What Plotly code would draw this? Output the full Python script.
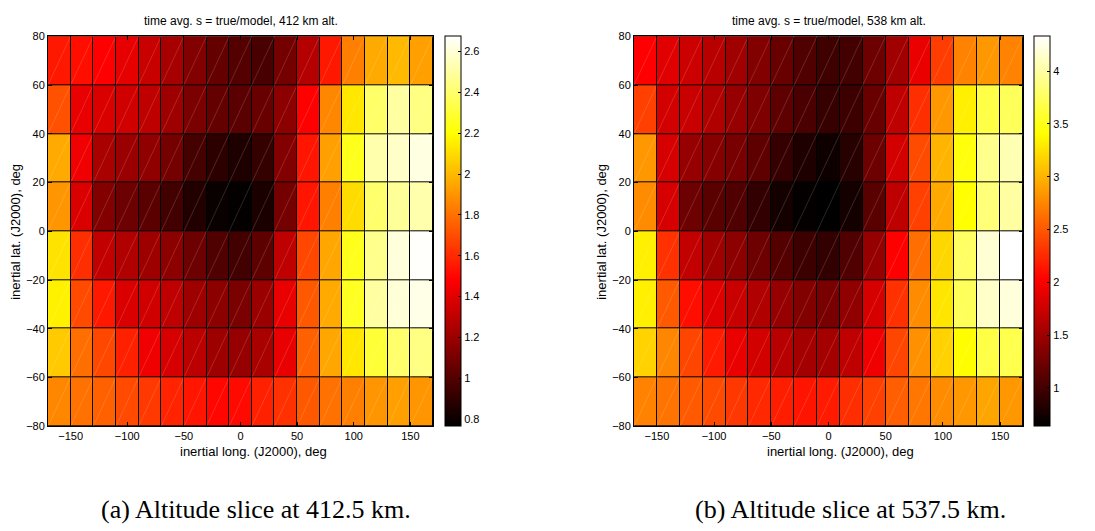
import plotly.graph_objects as go

# ---------------- data ----------------
lon_centers = [-160, -140, -120, -100, -80, -60, -40, -20, 0, 20, 40, 60, 80, 100, 120, 140, 160]
lat_centers = [70, 50, 30, 10, -10, -30, -50, -70]
x_ticks = [-150, -100, -50, 0, 50, 100, 150]
y_ticks = [-80, -60, -40, -20, 0, 20, 40, 60, 80]

# 412 km slice (rows from lat 70 down to -70)
s_412 = [
    [1.55, 1.52, 1.48, 1.41, 1.33, 1.23, 1.13, 1.045, 1.00, 0.97, 1.09, 1.27, 1.55, 1.84, 1.96, 2.00, 1.93],
    [1.71, 1.42, 1.38, 1.35, 1.30, 1.21, 1.11, 1.045, 1.02, 1.06, 1.16, 1.48, 1.86, 2.13, 2.39, 2.50, 2.44],
    [1.96, 1.44, 1.24, 1.20, 1.17, 1.09, 0.96, 0.89, 0.85, 0.91, 1.13, 1.54, 1.93, 2.25, 2.52, 2.57, 2.62],
    [1.90, 1.38, 1.13, 1.07, 1.02, 0.95, 0.86, 0.79, 0.78, 0.84, 1.09, 1.54, 1.84, 2.10, 2.40, 2.48, 2.52],
    [2.12, 1.61, 1.31, 1.26, 1.21, 1.16, 1.07, 0.99, 0.95, 1.03, 1.30, 1.68, 1.95, 2.25, 2.46, 2.61, 2.67],
    [2.16, 1.69, 1.55, 1.38, 1.35, 1.30, 1.21, 1.16, 1.11, 1.20, 1.42, 1.73, 1.96, 2.26, 2.50, 2.60, 2.63],
    [2.05, 1.79, 1.68, 1.57, 1.44, 1.37, 1.29, 1.21, 1.19, 1.24, 1.42, 1.75, 1.95, 2.13, 2.30, 2.40, 2.44],
    [1.86, 1.80, 1.75, 1.69, 1.64, 1.58, 1.54, 1.50, 1.51, 1.57, 1.62, 1.73, 1.80, 1.84, 1.90, 1.93, 1.90],
]

# 538 km slice
s_538 = [
    [2.02, 1.86, 1.75, 1.64, 1.51, 1.34, 1.20, 1.07, 0.98, 1.00, 1.23, 1.51, 1.91, 2.35, 2.73, 2.84, 2.73],
    [2.37, 1.78, 1.72, 1.59, 1.45, 1.32, 1.15, 1.04, 0.93, 0.96, 1.20, 1.67, 2.27, 2.84, 3.32, 3.66, 3.73],
    [2.84, 1.80, 1.45, 1.37, 1.29, 1.15, 0.93, 0.80, 0.72, 0.85, 1.23, 1.78, 2.43, 3.00, 3.45, 3.91, 4.06],
    [2.78, 1.80, 1.23, 1.12, 1.07, 0.91, 0.75, 0.66, 0.64, 0.75, 1.12, 1.67, 2.37, 2.94, 3.41, 3.84, 3.99],
    [3.32, 2.29, 1.69, 1.51, 1.40, 1.23, 1.10, 0.96, 0.91, 1.07, 1.45, 2.02, 2.62, 3.19, 3.77, 4.17, 4.33],
    [3.32, 2.51, 2.10, 1.86, 1.72, 1.59, 1.45, 1.34, 1.29, 1.42, 1.80, 2.29, 2.78, 3.27, 3.73, 4.13, 4.20],
    [3.16, 2.75, 2.40, 2.16, 1.91, 1.78, 1.64, 1.53, 1.53, 1.67, 1.94, 2.40, 2.81, 3.16, 3.40, 3.66, 3.69],
    [2.73, 2.65, 2.51, 2.43, 2.32, 2.24, 2.18, 2.13, 2.16, 2.27, 2.37, 2.54, 2.67, 2.78, 2.84, 2.92, 2.84],
]

ticks_412 = [0.8, 1.0, 1.2, 1.4, 1.6, 1.8, 2.0, 2.2, 2.4, 2.6]
ticks_538 = [1, 1.5, 2, 2.5, 3, 3.5, 4]
range_412 = [0.765, 2.675]
range_538 = [0.636, 4.33]

titles = ["time avg. s = true/model, 412 km alt.", "time avg. s = true/model, 538 km alt."]
captions = ["(a) Altitude slice at 412.5 km.", "(b) Altitude slice at 537.5 km."]
xlabel = "inertial long. (J2000), deg"
ylabel = "inertial lat. (J2000), deg"

# MATLAB "hot" colormap
hot = [[0.0, "rgb(0,0,0)"], [0.375, "rgb(255,0,0)"], [0.75, "rgb(255,255,0)"], [1.0, "rgb(255,255,255)"]]

W, H = 1095, 531
def px(x):
    return x / W
def py(y):
    return 1 - y / H

plot_top, plot_bot = 31, 430
panels = [
    dict(z=s_412, rng=range_412, ticks=ticks_412, x0=48, x1=433, cbx=445, title_x=241, xl_x=253, cap_x=256),
    dict(z=s_538, rng=range_538, ticks=ticks_538, x0=634, x1=1023, cbx=1034, title_x=829, xl_x=840, cap_x=850),
]

fig = go.Figure()
font_main = "Liberation Sans, Arial, Helvetica, sans-serif"
annotations = []

for i, p in enumerate(panels):
    xa = "x" if i == 0 else "x2"
    ya = "y" if i == 0 else "y2"
    fig.add_trace(go.Heatmap(
        x=lon_centers, y=lat_centers, z=p["z"],
        colorscale=hot, zmin=p["rng"][0], zmax=p["rng"][1],
        xgap=1, ygap=1, xaxis=xa, yaxis=ya, hoverongaps=False,
        colorbar=dict(
            x=px(p["cbx"]), xanchor="left", xpad=0, ypad=0,
            y=py(plot_top), yanchor="top", len=(plot_bot - plot_top) / H, lenmode="fraction",
            thickness=16, thicknessmode="pixels",
            outlinewidth=1, outlinecolor="black",
            tickvals=p["ticks"], ticks="inside", ticklen=3, tickcolor="black",
            tickfont=dict(family=font_main, size=11, color="black"),
        ),
    ))
    # faint diagonal seams across each cell
    dx, dy = [], []
    for lo in lon_centers:
        for la in lat_centers:
            dx += [lo - 10, lo + 10, None]
            dy += [la - 10, la + 10, None]
    fig.add_trace(go.Scatter(x=dx, y=dy, mode="lines", xaxis=xa, yaxis=ya,
                             line=dict(color="rgba(255,255,255,0.25)", width=0.6),
                             hoverinfo="skip", showlegend=False))

    annotations.append(dict(text=titles[i], x=px(p["title_x"]), y=py(15), xref="paper", yref="paper",
                            showarrow=False, xanchor="center", yanchor="middle",
                            font=dict(family=font_main, size=12, color="black")))
    annotations.append(dict(text=xlabel, x=px(p["xl_x"]), y=py(456), xref="paper", yref="paper",
                            showarrow=False, xanchor="center", yanchor="middle",
                            font=dict(family=font_main, size=13, color="black")))
    annotations.append(dict(text=ylabel, x=px(p["x0"] - 32), y=py(231), xref="paper", yref="paper",
                            showarrow=False, xanchor="center", yanchor="middle", textangle=-90,
                            font=dict(family=font_main, size=13, color="black")))
    annotations.append(dict(text=captions[i], x=px(p["cap_x"]), y=py(515), xref="paper", yref="paper",
                            showarrow=False, xanchor="center", yanchor="middle",
                            font=dict(family="Liberation Serif, Times New Roman, serif", size=26, color="black")))

axis_common = dict(showgrid=False, zeroline=False, showline=True, linecolor="black", linewidth=1,
                   mirror="ticks", ticks="inside", ticklen=4, tickcolor="black",
                   tickfont=dict(family=font_main, size=11, color="black"))

fig.update_layout(
    width=W, height=H, margin=dict(l=0, r=0, t=0, b=0),
    paper_bgcolor="white", plot_bgcolor="black", showlegend=False,
    xaxis=dict(domain=[px(48), px(433)], range=[-170, 170], tickvals=x_ticks, anchor="y", **axis_common),
    yaxis=dict(domain=[py(plot_bot), py(plot_top)], range=[-80, 80], tickvals=y_ticks, anchor="x", **axis_common),
    xaxis2=dict(domain=[px(634), px(1023)], range=[-170, 170], tickvals=x_ticks, anchor="y2", **axis_common),
    yaxis2=dict(domain=[py(plot_bot), py(plot_top)], range=[-80, 80], tickvals=y_ticks, anchor="x2", **axis_common),
    annotations=annotations,
)

fig.write_html("out.html", config={"displayModeBar": False},
               post_script="document.body.style.margin='0px';document.body.style.overflow='hidden';")
